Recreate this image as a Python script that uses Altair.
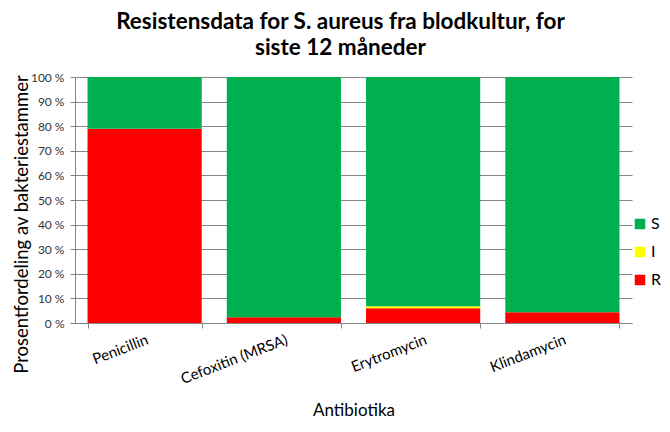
import altair as alt
import pandas as pd

antibiotics = ["Penicillin", "Cefoxitin (MRSA)", "Erytromycin", "Klindamycin"]
r_pct = [79.0, 2.3, 6.0, 4.4]
i_pct = [0.0, 0.0, 0.8, 0.0]
s_pct = [round(100 - r - i, 1) for r, i in zip(r_pct, i_pct)]
categories = ["S", "I", "R"]
colors = ["#00B050", "#FFFF00", "#FF0000"]
y_ticks = [0, 10, 20, 30, 40, 50, 60, 70, 80, 90, 100]

rows = []
for k, a in enumerate(antibiotics):
    rows.append({"Antibiotika": a, "Kategori": "R", "ord": 0, "pct": r_pct[k]})
    rows.append({"Antibiotika": a, "Kategori": "I", "ord": 1, "pct": i_pct[k]})
    rows.append({"Antibiotika": a, "Kategori": "S", "ord": 2, "pct": s_pct[k]})
df = pd.DataFrame(rows)

FONT = "Lato"

chart = alt.Chart(df).mark_bar(strokeWidth=0).encode(
    x=alt.X("Antibiotika:N", sort=antibiotics,
            scale=alt.Scale(paddingInner=0.18, paddingOuter=0.09),
            axis=alt.Axis(title="Antibiotika", labelAngle=-21, labelAlign="right",
                          labelBaseline="top", labelFontSize=15, labelFont=FONT,
                          labelColor="#000", labelPadding=4, tickBand="extent",
                          tickSize=5, tickColor="#868686", domainColor="#868686",
                          titleFont=FONT, titleFontSize=17, titleFontWeight="normal",
                          titleColor="#000", titlePadding=16, grid=False)),
    y=alt.Y("pct:Q", stack="zero",
            scale=alt.Scale(domain=[0, 100], nice=False),
            axis=alt.Axis(title="Prosentfordeling av bakteriestammer", values=y_ticks,
                          labelExpr="datum.value + ' %'", labelFontSize=12,
                          labelFont=FONT, labelColor="#333", labelPadding=6,
                          tickSize=5, tickColor="#868686", domainColor="#868686",
                          gridColor="#868686", gridWidth=1,
                          titleFont=FONT, titleFontSize=18.5, titleFontWeight="normal",
                          titleColor="#000", titleX=-44, titleY=147)),
    color=alt.Color("Kategori:N", scale=alt.Scale(domain=categories, range=colors),
                    legend=alt.Legend(title=None, orient="none", legendX=557, legendY=139,
                                      symbolType="square", symbolSize=110,
                                      symbolStrokeWidth=0, labelFontSize=16,
                                      labelFont=FONT, labelColor="#000",
                                      rowPadding=12, labelOffset=3)),
    order=alt.Order("ord:Q", sort="ascending"),
    tooltip=["Antibiotika", "Kategori", "pct"],
).properties(
    width=557,
    height=246,
    title=alt.TitleParams(["Resistensdata for S. aureus fra blodkultur, for", "siste 12 måneder"],
                          font=FONT, fontSize=22.5, fontWeight="bold", color="#000",
                          anchor="middle", dx=-13, offset=12, lineHeight=26),
    autosize=alt.AutoSizeParams(type="none"),
    padding={"left": 67, "top": 69, "right": 30, "bottom": 96},
).configure_view(stroke=None)

chart.save("out.html", embed_options={"renderer": "svg", "actions": False})
